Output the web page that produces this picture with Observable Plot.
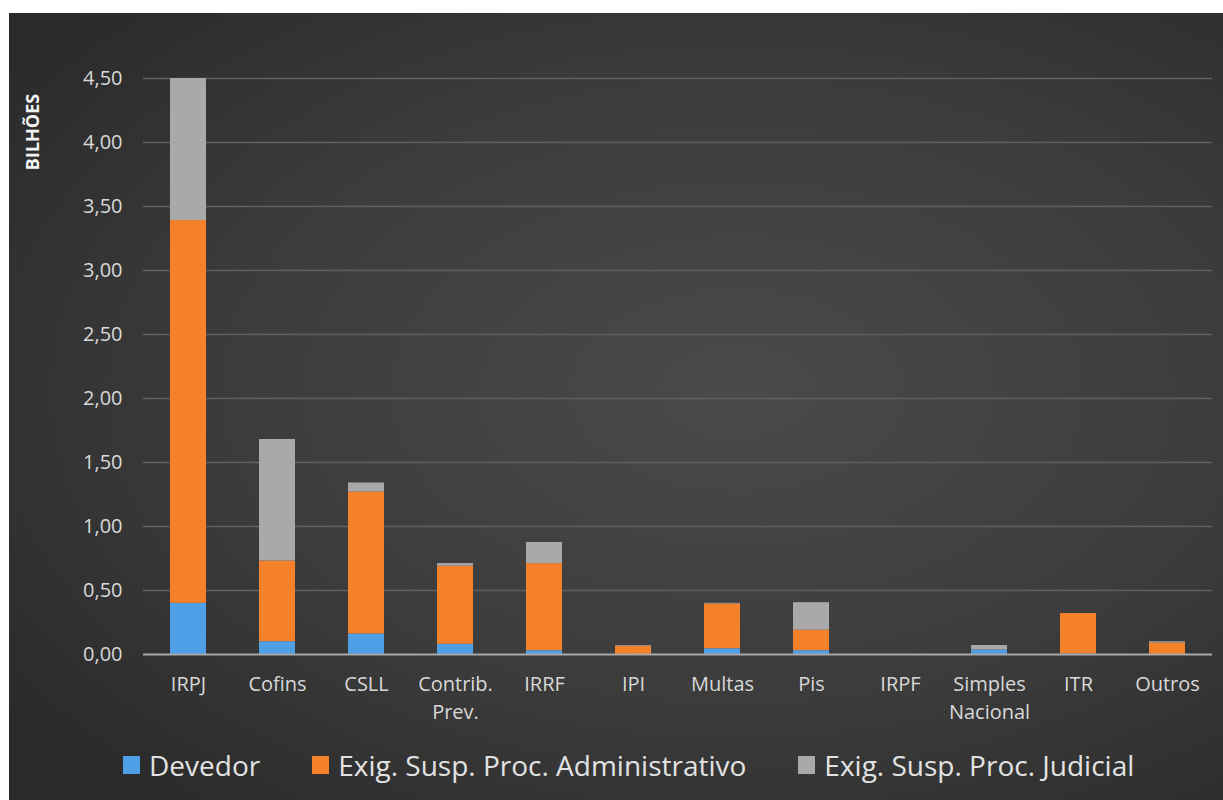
<!DOCTYPE html>
<html>
<head>
<meta charset="utf-8">
<script src="https://cdn.jsdelivr.net/npm/d3@7"></script>
<script src="https://cdn.jsdelivr.net/npm/@observablehq/plot@0.6"></script>
<style>
  html, body { margin: 0; padding: 0; background: #ffffff; }
  #frame {
    position: absolute; left: 9px; top: 13px; width: 1214px; height: 787px;
    background: radial-gradient(ellipse 75% 70% at 60% 48%, #4a4a4a 0%, #3c3c3c 55%, #2a2a2a 100%);
    font-family: "Open Sans", Lato, sans-serif; overflow: hidden;
  }
  #ylabel {
    position: absolute; left: 23px; top: 119px;
    transform: translate(-50%, -50%) rotate(-90deg);
    color: #f2f2f2; font-weight: bold; font-size: 18px; white-space: nowrap;
  }
  #legend {
    position: absolute; left: 114px; top: 730px; height: 44px;
    display: flex; align-items: center; gap: 52px;
    color: #e2e2e2; font-size: 28px;
  }
  .item { display: flex; align-items: center; gap: 9px; }
  .sw { width: 17px; height: 18px; display: inline-block; }
</style>
</head>
<body>
<div id="frame">
  <div id="chart"></div>
  <div id="ylabel">BILHÕES</div>
  <div id="legend"></div>
</div>
<script>
const categories = ["IRPJ", "Cofins", "CSLL", "Contrib. Prev.", "IRRF", "IPI", "Multas", "Pis", "IRPF", "Simples Nacional", "ITR", "Outros"];
const categoryLabels = ["IRPJ", "Cofins", "CSLL", "Contrib.\nPrev.", "IRRF", "IPI", "Multas", "Pis", "IRPF", "Simples\nNacional", "ITR", "Outros"];
const seriesNames = ["Devedor", "Exig. Susp. Proc. Administrativo", "Exig. Susp. Proc. Judicial"];
const seriesColors = ["#4f9fe6", "#f5822a", "#a9a9a9"];
const devedor      = [0.40, 0.10, 0.16, 0.08, 0.03, 0.00, 0.045, 0.03, 0.00, 0.035, 0.005, 0.00];
const administrativo = [2.99, 0.63, 1.11, 0.61, 0.68, 0.065, 0.35, 0.16, 0.00, 0.00, 0.315, 0.09];
const judicial     = [1.11, 0.95, 0.07, 0.02, 0.165, 0.005, 0.005, 0.215, 0.00, 0.035, 0.00, 0.01];
const yTicks = [0, 0.5, 1, 1.5, 2, 2.5, 3, 3.5, 4, 4.5];

const seriesValues = [devedor, administrativo, judicial];
const data = [];
seriesNames.forEach((s, si) => {
  categories.forEach((c, ci) => data.push({category: c, series: s, value: seriesValues[si][ci]}));
});

const fmt = d => d.toFixed(2).replace(".", ",");
const labelOf = new Map(categories.map((c, i) => [c, categoryLabels[i]]));

const plot = Plot.plot({
  width: 1214,
  height: 730,
  marginTop: 65,
  marginBottom: 89,
  marginLeft: 134,
  marginRight: 11,
  style: {background: "transparent", color: "#e0e0e0", fontFamily: "'Open Sans', Lato, sans-serif", fontSize: "20px"},
  x: {domain: categories, paddingInner: 0.6, paddingOuter: 0.3, label: null},
  y: {domain: [0, 4.5], label: null},
  color: {domain: seriesNames, range: seriesColors},
  marks: [
    Plot.gridY(yTicks.filter(d => d > 0), {stroke: "#606060", strokeOpacity: 1, strokeWidth: 1.3}),
    Plot.barY(data, {x: "category", y: "value", fill: "series", order: seriesNames}),
    Plot.ruleY([0], {stroke: "#a8a8a8", strokeWidth: 2}),
    Plot.axisX({tickSize: 0, tickPadding: 16, tickFormat: d => labelOf.get(d), lineHeight: 1.42, fill: "#d8d8d8", label: null}),
    Plot.axisY({ticks: yTicks, tickFormat: fmt, tickSize: 0, tickPadding: 21, fill: "#d8d8d8", label: null})
  ]
});
document.getElementById("chart").appendChild(plot);

const legend = document.getElementById("legend");
seriesNames.forEach((s, i) => {
  const it = document.createElement("div");
  it.className = "item";
  const sw = document.createElement("span");
  sw.className = "sw";
  sw.style.background = seriesColors[i];
  const t = document.createElement("span");
  t.textContent = s;
  it.appendChild(sw); it.appendChild(t);
  legend.appendChild(it);
});
</script>
</body>
</html>
